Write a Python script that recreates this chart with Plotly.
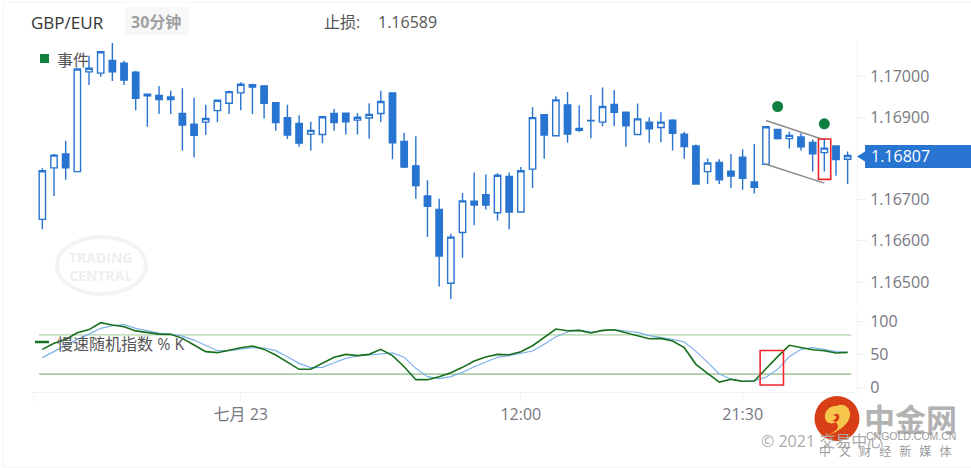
import plotly.graph_objects as go

W, H = 971, 468

candle_idx = list(range(70))
opens = [1.16652, 1.16777, 1.16811, 1.16768, 1.17010, 1.17007, 1.17038, 1.17031, 1.17009, 1.16956,
         1.16953, 1.16943, 1.16909, 1.16883, 1.16888, 1.16916, 1.16934, 1.16959, 1.16979, 1.16976,
         1.16935, 1.16899, 1.16885, 1.16859, 1.16858, 1.16909, 1.16910, 1.16893, 1.16898, 1.16909,
         1.16959, 1.16841, 1.16782, 1.16709, 1.16676, 1.16497, 1.16620, 1.16696, 1.16712, 1.16668,
         1.16756, 1.16670, 1.16774, 1.16906, 1.16855, 1.16930, 1.16868, 1.16891, 1.16888, 1.16931,
         1.16912, 1.16858, 1.16888, 1.16875, 1.16893, 1.16859, 1.16830, 1.16768, 1.16790, 1.16769,
         1.16803, 1.16743, 1.16786, 1.16870, 1.16848, 1.16852, 1.16839, 1.16814, 1.16830, 1.16798]
highs = [1.16776, 1.16811, 1.16843, 1.17017, 1.17049, 1.17061, 1.17080, 1.17037, 1.17012, 1.16957,
         1.16976, 1.16964, 1.16970, 1.16947, 1.16930, 1.16943, 1.16964, 1.16985, 1.16981, 1.16978,
         1.16936, 1.16930, 1.16905, 1.16889, 1.16903, 1.16920, 1.16911, 1.16910, 1.16934, 1.16964,
         1.16960, 1.16862, 1.16854, 1.16747, 1.16702, 1.16617, 1.16716, 1.16766, 1.16761, 1.16764,
         1.16766, 1.16779, 1.16924, 1.16907, 1.16951, 1.16961, 1.16929, 1.16954, 1.16972, 1.16966,
         1.16913, 1.16933, 1.16899, 1.16912, 1.16895, 1.16865, 1.16834, 1.16800, 1.16798, 1.16811,
         1.16822, 1.16835, 1.16878, 1.16871, 1.16865, 1.16861, 1.16846, 1.16849, 1.16831, 1.16817]
lows = [1.16628, 1.16709, 1.16748, 1.16768, 1.16978, 1.16998, 1.16988, 1.16978, 1.16917, 1.16877,
        1.16908, 1.16908, 1.16819, 1.16802, 1.16857, 1.16888, 1.16908, 1.16917, 1.16908, 1.16897,
        1.16867, 1.16847, 1.16828, 1.16819, 1.16837, 1.16867, 1.16858, 1.16858, 1.16848, 1.16888,
        1.16798, 1.16777, 1.16702, 1.16609, 1.16489, 1.16459, 1.16559, 1.16638, 1.16676, 1.16649,
        1.16628, 1.16670, 1.16728, 1.16799, 1.16855, 1.16838, 1.16864, 1.16849, 1.16878, 1.16878,
        1.16828, 1.16858, 1.16838, 1.16839, 1.16819, 1.16799, 1.16738, 1.16738, 1.16738, 1.16728,
        1.16724, 1.16715, 1.16786, 1.16846, 1.16824, 1.16819, 1.16768, 1.16768, 1.16758, 1.16738]
closes = [1.16770, 1.16808, 1.16777, 1.17017, 1.17019, 1.17059, 1.17010, 1.16990, 1.16946, 1.16952,
          1.16943, 1.16949, 1.16881, 1.16856, 1.16897, 1.16941, 1.16962, 1.16980, 1.16973, 1.16934,
          1.16887, 1.16857, 1.16837, 1.16868, 1.16901, 1.16887, 1.16889, 1.16900, 1.16907, 1.16938,
          1.16838, 1.16779, 1.16734, 1.16684, 1.16563, 1.16609, 1.16697, 1.16687, 1.16687, 1.16759,
          1.16670, 1.16770, 1.16899, 1.16857, 1.16942, 1.16859, 1.16873, 1.16892, 1.16926, 1.16912,
          1.16879, 1.16896, 1.16872, 1.16888, 1.16861, 1.16829, 1.16738, 1.16789, 1.16748, 1.16757,
          1.16752, 1.16730, 1.16877, 1.16848, 1.16856, 1.16828, 1.16811, 1.16825, 1.16797, 1.16807]

slow_k = [57.8, 67, 73, 83, 88, 98.5, 95, 92.4, 86, 83, 81, 80.7, 74.6, 64.5, 54.3, 52.8, 56.8, 60.4,
          63, 57.8, 49.2, 38, 27.4, 27.4, 36.5, 45.7, 50.2, 48.2, 50.2, 57.8, 48.2, 31.4, 11.6, 11.6,
          16.2, 22.3, 30.4, 40, 46.2, 50.2, 49.7, 54.3, 63.4, 76.1, 88.8, 86.3, 86.8, 82.7, 86.8, 87.8,
          83.3, 79.2, 74.1, 74.6, 70.6, 60.4, 35, 21.3, 8, 12.1, 9.1, 9.6, 28.9, 46.7, 64, 60.9, 57.3,
          55.8, 52.3, 53.3]
slow_d = [45.2, 54.3, 64.5, 73, 81, 89.9, 94, 95.4, 89.9, 86, 82.7, 81.2, 78, 72, 63.4, 55.8, 55.8,
          57.8, 60.4, 59.9, 55.8, 46.7, 36.5, 29.9, 30.4, 37.5, 44.1, 47.7, 49.2, 51.8, 52.3, 45.7,
          28.9, 16.2, 13.2, 16.2, 22.8, 31.4, 39, 45.7, 48.2, 51.3, 55.3, 65.5, 77.2, 84.3, 87.3, 84.3,
          86.3, 87.8, 85.8, 83.8, 78.7, 76.1, 73.1, 69, 54.8, 38, 20.3, 12.6, 9.1, 10.1, 15.2, 27.4,
          46.7, 57.9, 60.4, 57.9, 54.3, 53.3]

event_x = [63, 67]
event_y = [1.16926, 1.16884]

x_tick_vals = [-0.8, 17, 41, 60]
x_tick_text = ["", "七月 23", "12:00", "21:30"]
# 1.16800 sits under the last price flag in the reference, so it is left out
price_ticks = [1.165, 1.166, 1.167, 1.169, 1.170]
osc_ticks = [0, 50, 100]
osc_levels = [80, 20]
last_price = closes[-1]
stop_loss = "1.16589"

BLUE = "#2874d1"
GRID = "#f1f1f1"
LABEL = "#77777f"
FONT = "Open Sans, Noto Sans CJK SC, sans-serif"
CJK = "Noto Sans CJK SC, sans-serif"


def px(x):
    return x / W


def py(y):
    return 1 - y / H


def label(x, y, text, size=15, color="#555", family=FONT, anchor="left"):
    return dict(xref="paper", yref="paper", x=px(x), y=py(y), text=text, showarrow=False,
                xanchor=anchor, yanchor="middle", font=dict(size=size, color=color, family=family))


fig = go.Figure()

fig.add_trace(go.Candlestick(
    x=candle_idx, open=opens, high=highs, low=lows, close=closes,
    increasing=dict(line=dict(color=BLUE, width=1.4), fillcolor="white"),
    decreasing=dict(line=dict(color=BLUE, width=1.4), fillcolor=BLUE),
    whiskerwidth=0, showlegend=False, hoverinfo="skip", yaxis="y",
))
fig.add_trace(go.Scatter(x=event_x, y=event_y, mode="markers", yaxis="y", showlegend=False,
                         marker=dict(size=11, color="#0f7f3f")))
fig.add_trace(go.Scatter(x=candle_idx, y=slow_d, mode="lines", yaxis="y2", showlegend=False,
                         line=dict(color="#7db1ec", width=1.2)))
fig.add_trace(go.Scatter(x=candle_idx, y=slow_k, mode="lines", yaxis="y2", showlegend=False,
                         line=dict(color="#17701c", width=1.6)))

shapes = [
    # outer frame
    dict(type="rect", xref="paper", yref="paper", x0=px(3), x1=px(975), y0=py(467), y1=py(2),
         line=dict(color="#f4f4f4", width=1), layer="below"),
    # watermark ring
    dict(type="circle", xref="paper", yref="paper", x0=px(57), x1=px(146), y0=py(294), y1=py(237),
         line=dict(color="#f3f3f3", width=4), layer="below"),
    # header tag
    dict(type="rect", xref="paper", yref="paper", x0=px(125), x1=px(189), y0=py(35), y1=py(7),
         fillcolor="#f8f8f8", line=dict(width=0), layer="below"),
    # legend keys
    dict(type="rect", xref="paper", yref="paper", x0=px(40), x1=px(49), y0=py(63), y1=py(54),
         fillcolor="#12803f", line=dict(width=0)),
    dict(type="line", xref="paper", yref="paper", x0=px(35), x1=px(49), y0=py(342), y1=py(342),
         line=dict(color="#17701c", width=2.5)),
    # channel drawn on the chart
    dict(type="line", xref="x", yref="y", x0=62, x1=66.9, y0=1.16892, y1=1.16846,
         line=dict(color="#8c8c8c", width=1.5)),
    dict(type="line", xref="x", yref="y", x0=62, x1=67, y0=1.16786, y1=1.16740,
         line=dict(color="#8c8c8c", width=1.5)),
    # red markers
    dict(type="rect", xref="x", yref="y", x0=66.5, x1=67.55, y0=1.16749, y1=1.16847,
         line=dict(color="#f0262c", width=1.6)),
    dict(type="rect", xref="x", yref="y2", x0=61.5, x1=63.5, y0=3.5, y1=56,
         line=dict(color="#f0262c", width=1.6)),
    # last price flag
    dict(type="rect", xref="paper", yref="paper", x0=px(865), x1=px(971), y0=py(168), y1=py(145),
         fillcolor=BLUE, line=dict(width=0)),
    dict(type="path", xref="paper", yref="paper",
         path=f"M {px(857)} {py(156.5)} L {px(865)} {py(151.5)} L {px(865)} {py(161.5)} Z",
         fillcolor=BLUE, line=dict(width=0)),
    # cngold logo
    dict(type="circle", xref="paper", yref="paper", x0=px(814.5), x1=px(859.5), y0=py(441), y1=py(396),
         fillcolor="#d83f17", line=dict(width=0)),
    dict(type="path", xref="paper", yref="paper",
         path=" ".join([
             f"M {px(824)} {py(437)}",
             f"C {px(838)} {py(432)} {px(851)} {py(424)} {px(850)} {py(413)}",
             f"C {px(849)} {py(406)} {px(842)} {py(403)} {px(837)} {py(406)}",
             f"C {px(830)} {py(405)} {px(824)} {py(411)} {px(825)} {py(418)}",
             f"C {px(826)} {py(425)} {px(836)} {py(425)} {px(839)} {py(419)}",
             f"C {px(841)} {py(414)} {px(835)} {py(412)} {px(833)} {py(416)}",
             f"C {px(837)} {py(414)} {px(838)} {py(420)} {px(832)} {py(420)}",
             f"C {px(843)} {py(426)} {px(838)} {py(431)} {px(824)} {py(437)} Z",
         ]),
         fillcolor="#f7c64c", line=dict(width=0)),
]
for level, color in zip(osc_levels, ["#c6dfc0", "#a9cca3"]):
    shapes.append(dict(type="line", xref="x", yref="y2", x0=-0.28, x1=69.3, y0=level, y1=level,
                       line=dict(color=color, width=1.8), layer="below"))

annotations = [
    label(29, 22, "GBP/EUR", size=17, color="#333"),
    label(129, 22, "<b>30分钟</b>", size=16, color="#a0a0a0"),
    label(322, 22, "止损:", size=16, color="#555"),
    label(376, 22, stop_loss, size=16, color="#555"),
    label(55, 60, "事件", size=16, color="#555"),
    label(55, 344, "慢速随机指数 % K", size=16, color="#555"),
    label(101, 266, "<b>TRADING<br>CENTRAL</b>", size=14, color="#efefef", anchor="center"),
    label(869, 156.5, f"{last_price:.5f}", size=16, color="white"),
    label(759, 441, "© 2021 交易中心", size=16, color="#aaaaaa"),
    label(862, 417, "<b>中金网</b>", size=31, color="#b2b2b2", family=CJK),
    label(864, 436, "CNGOLD.COM.CN", size=10.5, color="#9a9a9a", family="Liberation Sans"),
    label(817, 450, "\u00a0\u00a0\u00a0".join("中文财经新媒体"), size=12, color="#9a9a9a", family=CJK),
]

fig.update_layout(
    width=W, height=H, autosize=False,
    margin=dict(l=0, r=0, t=0, b=0, autoexpand=False),
    paper_bgcolor="white", plot_bgcolor="white",
    font=dict(family=FONT, size=16, color=LABEL),
    hovermode=False,
    boxgap=0.22,
    xaxis=dict(
        domain=[px(33), px(857)], range=[-0.8, 69.8], anchor="y2",
        tickmode="array", tickvals=x_tick_vals, ticktext=x_tick_text,
        ticks="outside", ticklen=8, tickcolor=GRID, tickfont=dict(size=16, color=LABEL),
        showgrid=False, zeroline=False, showline=True, linecolor=GRID,
        rangeslider=dict(visible=False),
    ),
    yaxis=dict(
        domain=[py(305), py(40)], range=[1.164442, 1.170874], side="right", anchor="x",
        tickmode="array", tickvals=price_ticks, tickformat=".5f",
        ticks="outside", ticklen=9, tickcolor=GRID,
        showgrid=False, zeroline=False, showline=True, linecolor=GRID,
    ),
    yaxis2=dict(
        domain=[py(392), py(312)], range=[-7.2, 114.8], side="right", anchor="x",
        tickmode="array", tickvals=osc_ticks,
        ticks="outside", ticklen=9, tickcolor=GRID,
        showgrid=False, zeroline=False, showline=True, linecolor=GRID,
    ),
    shapes=shapes,
    annotations=annotations,
)

# the page has a default 8px body margin, drop it so the figure sits at 0,0
fig.write_html("out.html", config={"displayModeBar": False},
               post_script="document.body.style.margin='0';document.body.style.overflow='hidden';")
